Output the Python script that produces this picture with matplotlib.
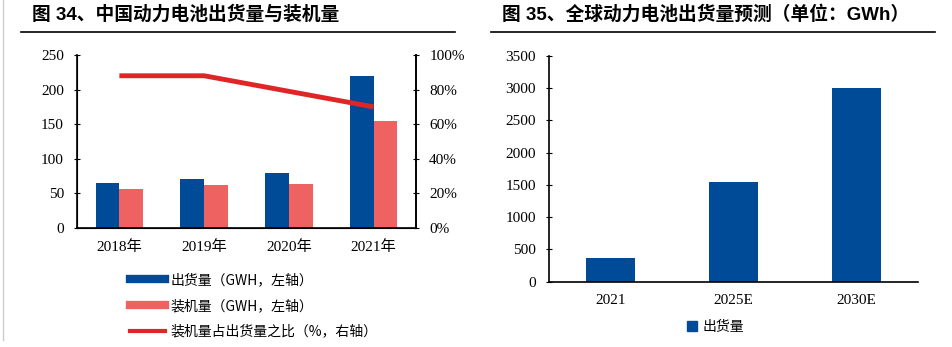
import numpy as np
import matplotlib.pyplot as plt
from matplotlib.lines import Line2D
from matplotlib.patches import Patch

# 数据
years = ['2018年', '2019年', '2020年', '2021年']
shipment = [65, 71, 80, 220]       # 出货量 GWh
installed = [57, 62, 64, 155]      # 装机量 GWh
ratio = [88, 88, 79, 70]           # 装机量占出货量之比 %

global_years = ['2021', '2025E', '2030E']
global_shipment = [371, 1550, 3000]

blue = '#004B97'
pink = '#EF6262'
red = '#E02527'

serif = ['Liberation Serif', 'Noto Sans CJK SC']
cjk = ['Noto Sans CJK SC', 'DejaVu Sans']
plt.rcParams['font.family'] = serif

fig = plt.figure(figsize=(9.52, 3.47), dpi=100)

# 左图
ax1 = fig.add_axes([0.0809, 0.3429, 0.3561, 0.4986])
x = np.arange(len(years))
w = 0.28
ax1.bar(x - w / 2, shipment, w, color=blue)
ax1.bar(x + w / 2, installed, w, color=pink)
ax1.set_xlim(-0.5, 3.5)
ax1.set_ylim(0, 250)
ax1.set_yticks(range(0, 251, 50))
ax1.set_xticks(x)
ax1.set_xticklabels(years, fontsize=11)
ax1.tick_params(axis='x', length=0, pad=9)
ax1.tick_params(axis='y', direction='inout', length=5, labelsize=11, pad=7)
ax1.spines['top'].set_visible(False)
for s in ['left', 'bottom', 'right']:
    ax1.spines[s].set_linewidth(1.2)

ax2 = ax1.twinx()
ax2.plot(x, ratio, color=red, lw=3.5, solid_capstyle='butt')
ax2.set_ylim(0, 100)
ax2.set_yticks(range(0, 101, 20))
ax2.set_yticklabels([f'{v}%' for v in range(0, 101, 20)])
ax2.tick_params(axis='y', direction='inout', length=5, labelsize=11, pad=7)
ax2.spines['top'].set_visible(False)
ax2.spines['right'].set_linewidth(1.2)

handles = [Line2D([], [], color=blue, lw=6),
           Line2D([], [], color=pink, lw=6),
           Line2D([], [], color=red, lw=3)]
labels = ['出货量（GWH，左轴）', '装机量（GWH，左轴）', '装机量占出货量之比（%，右轴）']
fig.legend(handles, labels, loc='upper left', bbox_to_anchor=(0.137, 1 - 273 / 347),
           frameon=False, prop={'family': cjk, 'size': 10}, handlelength=2.5,
           handletextpad=0.4, labelspacing=0.85, borderpad=0, borderaxespad=0)

# 右图
ax3 = fig.add_axes([0.5767, 0.1882, 0.3876, 0.6513])
gx = np.arange(len(global_years))
ax3.bar(gx, global_shipment, 0.4, color=blue)
ax3.set_xlim(-0.5, 2.5)
ax3.set_ylim(0, 3500)
ax3.set_yticks(range(0, 3501, 500))
ax3.set_xticks(gx)
ax3.set_xticklabels(global_years, fontsize=11)
ax3.tick_params(axis='x', length=0, pad=9)
ax3.tick_params(axis='y', direction='inout', length=5, labelsize=11, pad=7)
ax3.spines['top'].set_visible(False)
ax3.spines['right'].set_visible(False)
for s in ['left', 'bottom']:
    ax3.spines[s].set_linewidth(1.2)
fig.legend([Patch(color=blue)], ['出货量'], loc='center left',
           bbox_to_anchor=(0.722, 1 - 327 / 347), frameon=False,
           prop={'family': cjk, 'size': 10}, handlelength=0.7, handleheight=0.7,
           handletextpad=0.4, borderpad=0, borderaxespad=0)

# 标题和分隔线
fig.text(32 / 952, 1 - 14 / 347, '图 34、中国动力电池出货量与装机量', fontsize=13.5,
         fontweight='bold', family=['Liberation Sans', 'Noto Sans CJK SC'], va='center')
fig.text(502 / 952, 1 - 14 / 347, '图 35、全球动力电池出货量预测（单位：GWh）', fontsize=13.5,
         fontweight='bold', family=['Liberation Sans', 'Noto Sans CJK SC'], va='center')
fig.add_artist(Line2D([21 / 952, 455 / 952], [1 - 32 / 347] * 2, color='black', lw=1.2))
fig.add_artist(Line2D([491 / 952, 935 / 952], [1 - 32 / 347] * 2, color='black', lw=1.2))
fig.add_artist(Line2D([3 / 952, 3 / 952], [1 - 340 / 347, 1], color='#cccccc', lw=1))

fig.savefig('out.png', dpi=100)
